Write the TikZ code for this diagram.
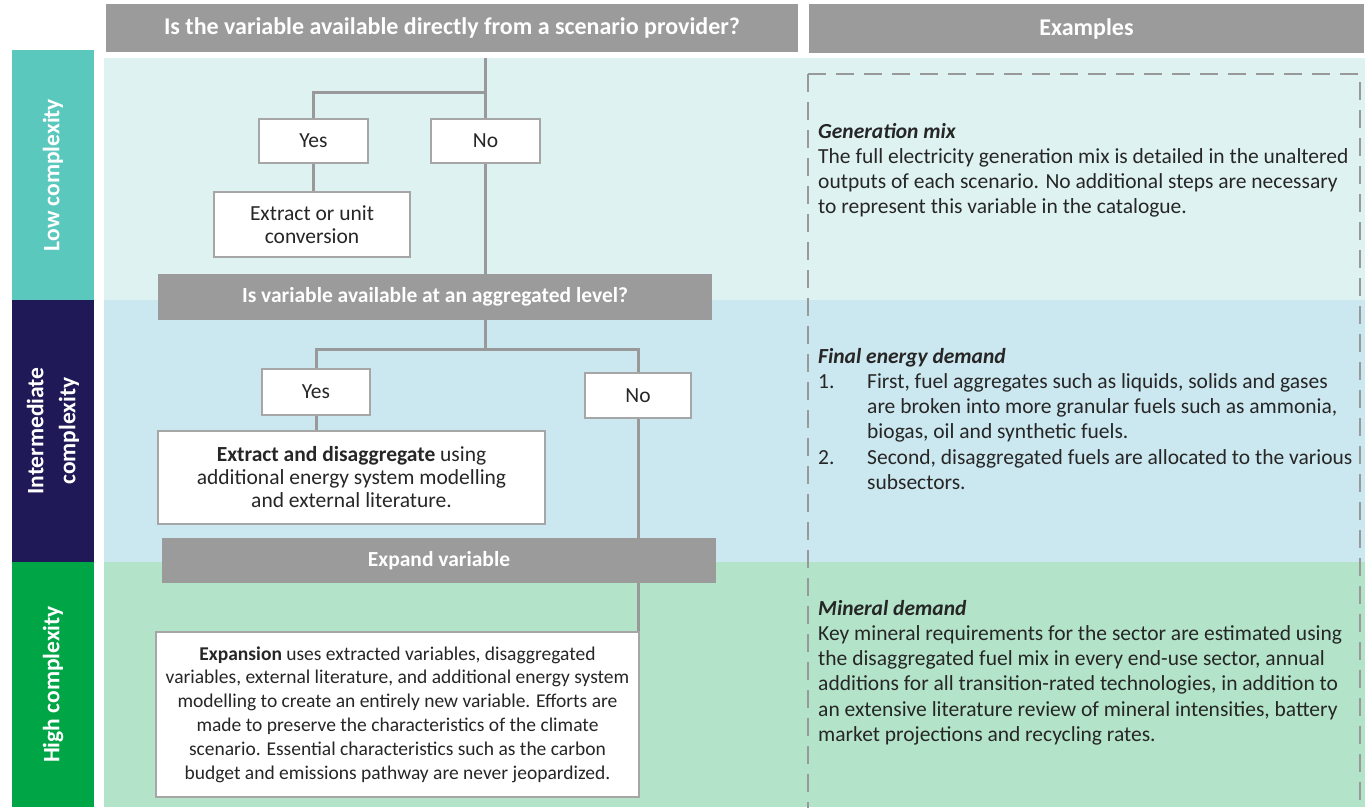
\documentclass[tikz,border=0pt]{standalone}
\usepackage{fontspec}
\setmainfont{Carlito}
\usetikzlibrary{positioning}
\definecolor{lowbg}{HTML}{DEF3F1}
\definecolor{midbg}{HTML}{CBE7EF}
\definecolor{highbg}{HTML}{B3E3C8}
\definecolor{lowside}{HTML}{5BC8BD}
\definecolor{midside}{HTML}{1F1A57}
\definecolor{highside}{HTML}{00A546}
\definecolor{hdrgray}{HTML}{9B9B9B}
\definecolor{linegray}{HTML}{999999}
\definecolor{boxgray}{HTML}{A6A6A6}
\definecolor{txt}{HTML}{262626}
\tikzset{hdr/.style = {fill=hdrgray, text=white, inner sep=0, font=\bfseries\fontsize{24}{28}\selectfont}}
\tikzset{bar/.style = {fill=hdrgray, text=white, inner sep=0, minimum width=554, font=\bfseries\fontsize{21.5}{25}\selectfont}}
\tikzset{side/.style = {rotate=90, text=white, inner sep=0, minimum height=82, align=center, font=\bfseries\fontsize{23.5}{32}\selectfont}}
\tikzset{stepbox/.style = {draw=boxgray, line width=2.5, fill=white, text=txt, inner sep=0, align=center, font=\fontsize{21.5}{23}\selectfont}}
\tikzset{link/.style = {draw=linegray, line width=3}}
\tikzset{frame/.style = {draw=linegray, line width=2.5, dash pattern=on 18pt off 10pt}}
\tikzset{note/.style = {anchor=north west, inner sep=0, align=left, text=txt, font=\fontsize{21.5}{25.2}\selectfont}}

\begin{document}
\begin{tikzpicture}[x=1pt, y=-1pt]
  \useasboundingbox (0,0) rectangle (1365,807);
  % background rows
  \foreach \ya/\yb/\c in {58/300/lowbg, 300/562/midbg, 562/807/highbg}
    \fill[\c] (104,\ya) rectangle (1365,\yb);
  % complexity labels
  \node[side, fill=lowside, minimum width=250] (low) at (53,175) {Low complexity};
  \node[side, fill=midside, minimum width=262] (mid) at (53,431) {Intermediate\\complexity};
  \node[side, fill=highside, minimum width=245] (high) at (53,684.5) {High complexity};
  % column heads
  \node[hdr, minimum width=692, minimum height=48] (q1) at (452,28) {Is the variable available directly from a scenario provider?};
  \node[hdr, minimum width=555, minimum height=49] (ex) at (1086.5,28.5) {Examples};
  % examples frame
  \draw[frame] (808,74) -- (808,810);
  \draw[frame] (808,74) -- (1360,74) -- (1360,810);

  % flow
  \node[stepbox, minimum width=109, minimum height=44] (yes1) at (313.5,141) {Yes};
  \node[stepbox, minimum width=109, minimum height=44] (no1) at (485.5,141) {No};
  \node[stepbox, minimum width=196, minimum height=65] (ext1) at (312,224.5) {Extract or unit\\conversion};
  \node[bar, minimum height=46] (q2) at (435,297) {Is variable available at an aggregated level?};
  \node[stepbox, minimum width=108, minimum height=46] (yes2) at (316,392) {Yes};
  \node[stepbox, minimum width=106, minimum height=45] (no2) at (638,395.5) {No};
  \node[stepbox, minimum width=387, minimum height=93] (ext2) at (351.5,477.5)
    {\textbf{Extract and disaggregate} using\\additional energy system modelling\\and external literature.};
  \node[bar, minimum height=45] (q3) at (439,560.5) {Expand variable};
  \node[stepbox, minimum width=483, minimum height=165, font=\fontsize{19.5}{23.8}\selectfont] (expn) at (397.5,714.5)
    {\textbf{Expansion} uses extracted variables, disaggregated\\variables, external literature, and additional energy system\\modelling to create an entirely new variable. Efforts are\\made to preserve the characteristics of the climate\\scenario. Essential characteristics such as the carbon\\budget and emissions pathway are never jeopardized.};

  \coordinate (top) at (485.5,58);
  \coordinate (fork1) at (485.5,92);
  \coordinate (fork2) at (485.5,349);
  \draw[link] (top) -- (no1);
  \draw[link] (fork1) -| (yes1);
  \draw[link] (yes1.south) -- (yes1.south |- ext1.north);
  \draw[link] (no1) -- (no1.south |- q2.north);
  \draw[link] (q2.south -| fork2) -- (fork2) -| (yes2);
  \draw[link] (fork2) -| (no2);
  \draw[link] (yes2) -- (yes2.south |- ext2.north);
  \draw[link] (no2) -- (no2.south |- q3.north);
  \draw[link] (no2.south |- q3.south) -- (no2.south |- expn.north);

  % examples
  \node[note] (gen) at (818,120.4)
    {\strut\textbf{\textit{Generation mix}}\\The full electricity generation mix is detailed in the unaltered\\outputs of each scenario. No additional steps are necessary\\to represent this variable in the catalogue.};
  \node[note] (fed) at (818,345.4)
    {\strut\textbf{\textit{Final energy demand}}\\\makebox[49pt][l]{1.}First, fuel aggregates such as liquids, solids and gases\\\hspace*{49pt}are broken into more granular fuels such as ammonia,\\\hspace*{49pt}biogas, oil and synthetic fuels.\\\makebox[49pt][l]{2.}Second, disaggregated fuels are allocated to the various\\\hspace*{49pt}subsectors.};
  \node[note] (min) at (818,597.4)
    {\strut\textbf{\textit{Mineral demand}}\\Key mineral requirements for the sector are estimated using\\the disaggregated fuel mix in every end-use sector, annual\\additions for all transition-rated technologies, in addition to\\an extensive literature review of mineral intensities, battery\\market projections and recycling rates.};
\end{tikzpicture}
\end{document}
